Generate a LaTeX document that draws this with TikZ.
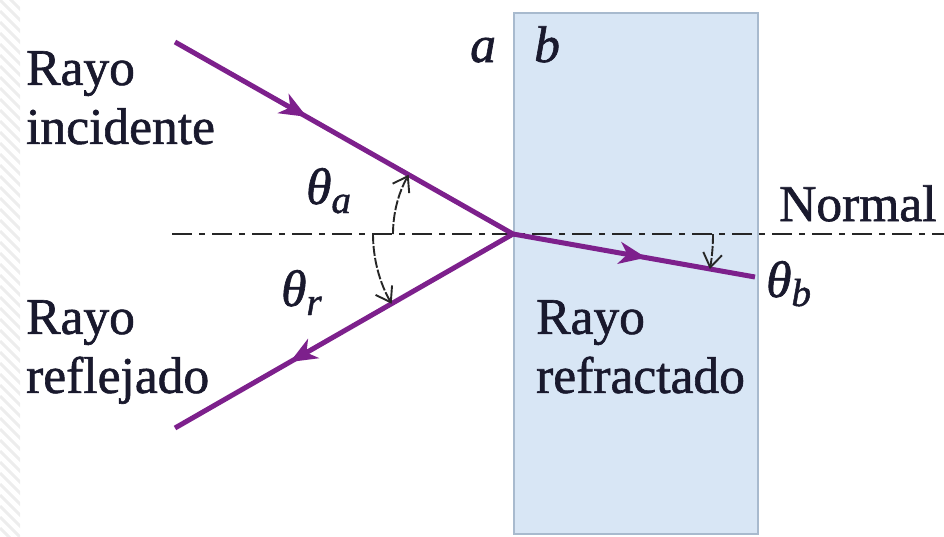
\documentclass[tikz,border=0pt]{standalone}
\usepackage{fontspec}
\setmainfont{Liberation Serif}[FakeBold=1.2]
\usetikzlibrary{arrows.meta,decorations.markings}
\definecolor{raypurple}{RGB}{125,32,140}
\definecolor{glassfill}{RGB}{216,230,245}
\definecolor{glassedge}{RGB}{168,186,206}
\definecolor{inkcol}{RGB}{25,25,45}
\newcommand\angsym[1]{\textit{θ}\raisebox{-9pt}{\fontsize{39}{39}\selectfont\textit{#1}}}
\begin{document}
\begin{tikzpicture}[x=1pt,y=-1pt,
  lbl/.style={font=\fontsize{51.5}{59}\selectfont, text=inkcol, inner sep=0pt, align=left, anchor=north west},
  sym/.style={font=\fontsize{51.5}{59}\selectfont, text=inkcol, inner sep=0pt, anchor=base west},
  ray/.style={draw=raypurple, line width=5pt, postaction={decorate},
    decoration={markings, mark=at position #1 with {\arrow{Stealth[length=27pt,width=22pt,inset=8pt]}}}},
  angarc/.style={draw=black!85, line width=1.9pt, dash pattern=on 10pt off 2pt,
    -{Straight Barb[length=14pt,width=19pt,line width=1.9pt]}},
  normalline/.style={draw=black!85, line width=2.8pt, dash pattern=on 20pt off 7pt on 6pt off 7pt},
  hatch/.style={draw=gray!14, line width=3pt}
]
\useasboundingbox (0,0) rectangle (944,536);
% faint hatched strip at the left edge
\begin{scope}
  \clip (0,0) rectangle (20,536);
  \foreach \k in {-4,...,56} \draw[hatch] (0,\k*11) -- (30,\k*11+30);
\end{scope}
% glass block
\node[draw=glassedge, fill=glassfill, line width=1.5pt, inner sep=0pt,
  minimum width=244pt, minimum height=521pt, anchor=north west] (glass) at (513,12) {};
% coordinates
\coordinate (O) at (513,234);
\coordinate (I) at (175,42);
\coordinate (R) at (175,428);
\coordinate (T) at (755,277);
\coordinate (NL) at (172,234);
\coordinate (NR) at (944,234);
% normal
\draw[normalline] (NL) -- (NR);
% rays
\draw[ray=0.39] (I) -- (O);
\draw[ray=0.66] (O) -- (R);
\draw[ray=0.55] (O) -- (T);
% angle arcs
\draw[angarc] ([shift={(180:120)}]O) arc[start angle=180, end angle=209.6, radius=120];
\draw[angarc] ([shift={(180:140)}]O) arc[start angle=180, end angle=150.1, radius=140];
\draw[angarc] ([shift={(0:200)}]O) arc[start angle=0, end angle=10.1, radius=200];
% labels
\node[lbl] (inc) at (26,51) {Rayo\\incidente};
\node[lbl] (refl) at (26,300) {Rayo\\reflejado};
\node[lbl] (refr) at (536,300) {Rayo\\refractado};
\node[sym] (norm) at (779,221) {Normal};
\node[sym] (la) at (470,62) {\textit{a}};
\node[sym] (lb) at (534,62) {\textit{b}};
\node[sym] (tha) at (306,204) {\angsym{a}};
\node[sym] (thr) at (281,306) {\angsym{r}};
\node[sym] (thb) at (766,297) {\angsym{b}};
\end{tikzpicture}
\end{document}
